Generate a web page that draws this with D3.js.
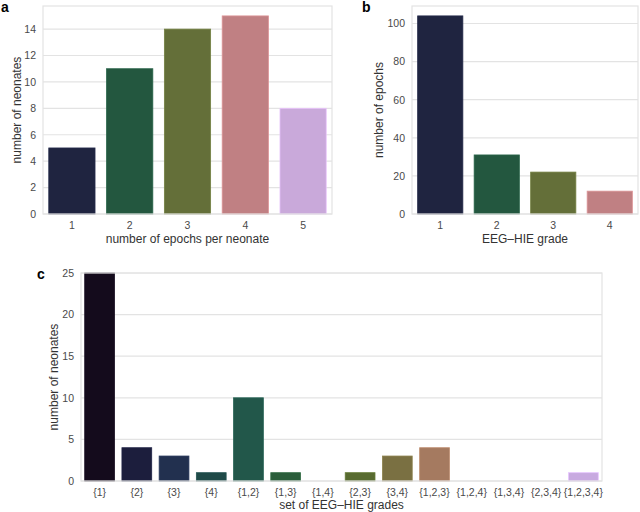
<!DOCTYPE html>
<html><head><meta charset="utf-8">
<script src="https://cdn.jsdelivr.net/npm/d3@7"></script>
<style>body{margin:0;background:#fff}svg{display:block}text{font-family:"Liberation Sans",Arial,sans-serif}</style>
</head><body><svg id="c" width="640" height="512"></svg>
<script>
const catsA = ["1","2","3","4","5"];
const valsA = [5, 11, 14, 15, 8];
const ticksA = [0,2,4,6,8,10,12,14];
const colorsA = ["#1f2440","#23573f","#646f39","#c08083","#c9a9da"];

const catsB = ["1","2","3","4"];
const valsB = [104, 31, 22, 12];
const ticksB = [0,20,40,60,80,100];
const colorsB = ["#1f2440","#23573f","#646f39","#c08083"];

const catsC = ["{1}","{2}","{3}","{4}","{1,2}","{1,3}","{1,4}","{2,3}","{3,4}","{1,2,3}","{1,2,4}","{1,3,4}","{2,3,4}","{1,2,3,4}"];
const valsC = [25, 4, 3, 1, 10, 1, 0, 1, 3, 4, 0, 0, 0, 1];
const ticksC = [0,5,10,15,20,25];
const colorsC = ["#140b1c","#1c1e3d","#22304f","#1f4a48","#22574a","#2b5e3b","#3e6633","#586b30","#7a7042","#a57a60","#c0808a","#c98aa8","#c99ac8","#c8aae0"];

const svg = d3.select("#c");
const gridCol = "#e3e3e3", tickCol = "#4a4a4a";

function panel(o){
  const g = svg.append("g");
  const x = d3.scaleBand().domain(o.cats).range([o.x0,o.x1]).paddingInner(0.2).paddingOuter(0.1);
  const y = d3.scaleLinear().domain([0,o.ymax]).range([o.y1,o.y0]);
  // grid
  g.selectAll("line.grid").data(o.ticks).join("line")
    .attr("x1",o.x0).attr("x2",o.x1).attr("y1",d=>y(d)).attr("y2",d=>y(d))
    .attr("stroke",gridCol).attr("stroke-width",1.2);
  // bars
  g.selectAll("rect.bar").data(o.vals).join("rect")
    .attr("x",(d,i)=>x(o.cats[i])).attr("width",x.bandwidth())
    .attr("y",d=>y(d)).attr("height",d=>y(0)-y(d))
    .attr("fill",(d,i)=>o.colors[i])
    .attr("stroke",(d,i)=>d3.color(o.colors[i]).brighter(0.4)).attr("stroke-width",0.8);
  // frame
  g.append("rect").attr("x",o.x0).attr("y",o.y0).attr("width",o.x1-o.x0).attr("height",o.y1-o.y0)
    .attr("fill","none").attr("stroke",gridCol).attr("stroke-width",1.2);
  // y ticks
  const ya = d3.axisLeft(y).tickValues(o.ticks).tickSize(0).tickPadding(7);
  const yg = g.append("g").attr("transform",`translate(${o.x0},0)`).call(ya);
  yg.select(".domain").remove();
  yg.selectAll("text").attr("fill",tickCol).attr("font-size",10.5).attr("font-family","Liberation Sans, Arial, sans-serif");
  const xa = d3.axisBottom(x).tickSize(0).tickPadding(8);
  const xg = g.append("g").attr("transform",`translate(0,${o.y1})`).call(xa);
  xg.select(".domain").remove();
  xg.selectAll("text").attr("fill",tickCol).attr("font-size",10.5).attr("font-family","Liberation Sans, Arial, sans-serif");
  // labels
  g.append("text").attr("x",(o.x0+o.x1)/2).attr("y",o.xlabY).attr("text-anchor","middle")
    .attr("font-size",12).attr("fill","#333").text(o.xlabel);
  g.append("text").attr("transform",`translate(${o.ylabX},${(o.y0+o.y1)/2}) rotate(-90)`)
    .attr("text-anchor","middle").attr("font-size",12).attr("fill","#333").text(o.ylabel);
  g.append("text").attr("x",o.px).attr("y",o.py).attr("font-size",14).attr("font-weight","bold")
    .attr("fill","#000").text(o.letter);
}

panel({cats:catsA, vals:valsA, ticks:ticksA, colors:colorsA, ymax:15.75,
  x0:43, x1:332, y0:6, y1:214, xlabel:"number of epochs per neonate", ylabel:"number of neonates",
  xlabY:243, ylabX:21, letter:"a", px:1, py:12});
panel({cats:catsB, vals:valsB, ticks:ticksB, colors:colorsB, ymax:109.2,
  x0:412, x1:638, y0:6, y1:214, xlabel:"EEG–HIE grade", ylabel:"number of epochs",
  xlabY:243, ylabX:383, letter:"b", px:362, py:12});
panel({cats:catsC, vals:valsC, ticks:ticksC, colors:colorsC, ymax:25,
  x0:81, x1:602, y0:273, y1:481, xlabel:"set of EEG–HIE grades", ylabel:"number of neonates",
  xlabY:509, ylabX:58, letter:"c", px:37, py:279});
</script></body></html>
